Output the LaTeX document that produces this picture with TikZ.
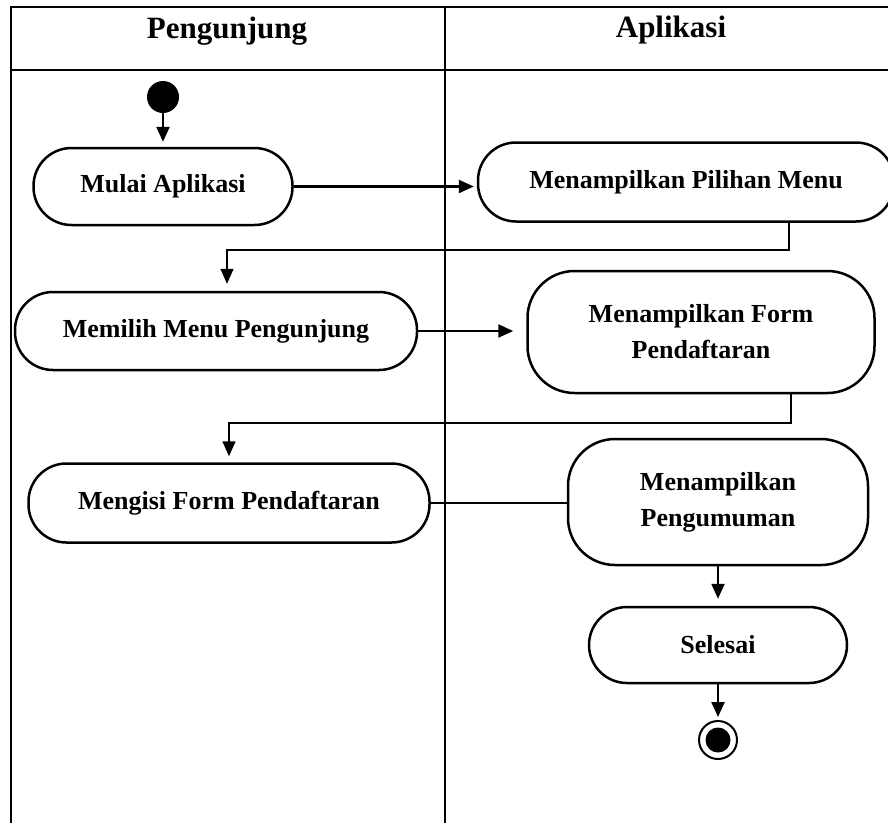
\documentclass[tikz,border=0pt]{standalone}
\usepackage{fontspec}
\setmainfont{Liberation Serif}
\usetikzlibrary{arrows.meta}

\begin{document}
\begin{tikzpicture}[x=1pt,y=-1pt,>={Triangle[length=15pt,width=13pt]},thick,
    act node/.style={draw,line width=2.5pt,rounded corners=38pt,align=center,inner sep=0pt,font=\bfseries\fontsize{26}{36}\selectfont},
    tall node/.style={act node,rounded corners=47pt},
    lane title/.style={anchor=base,font=\bfseries\fontsize{31}{36}\selectfont},
    start node/.style={circle,fill,minimum size=32pt,inner sep=0pt},
    end node/.style={circle,draw,line width=2pt,minimum size=38pt,inner sep=0pt,path picture={\fill (path picture bounding box.center) circle (12.5pt);}},
    lane/.style={line width=2pt},
    flow/.style={->,line width=2.4pt},
    elbow/.style={->,line width=1.5pt}]
            \useasboundingbox (0,0) rectangle (888,823);

            \draw[lane] (11,823) -- (11,7) -- (888,7);
            \draw[lane] (11,70) -- (888,70);
            \draw[lane] (445,7) -- (445,823);
            \node[lane title] (pengunjung) at (227,38) {Pengunjung};
            \node[lane title] (aplikasi) at (671,37) {Aplikasi};

            \node[start node] (start) at (163,97) {};
            \node[act node,minimum width=259pt,minimum height=77pt] (mulai) [below of=start,node distance=89.5pt] {Mulai Aplikasi};
            \node[act node,minimum width=416pt,minimum height=79pt] (pilihan) at (686,182) {Menampilkan Pilihan Menu};
            \node[act node,minimum width=402pt,minimum height=78pt] (memilih) at (216,331) {Memilih Menu Pengunjung};
            \node[tall node,minimum width=347pt,minimum height=122pt] (form) at (701,332) {Menampilkan Form\\Pendaftaran};
            \node[act node,minimum width=401pt,minimum height=79pt] (mengisi) at (229,503) {Mengisi Form Pendaftaran};
            \node[tall node,minimum width=300pt,minimum height=126pt] (umum) at (718,502) {Menampilkan\\Pengumuman};
            \node[act node,minimum width=258pt,minimum height=76pt] (selesai) [below of=umum,node distance=143pt] {Selesai};
            \node[end node] (finish) [below of=selesai,node distance=95pt] {};

            \coordinate (e1) at (227,250);
            \coordinate (e2) at (229,423);

            \draw[flow,shorten >=5pt] (start) -- (mulai);
            \draw[flow,shorten >=3pt] (mulai.east) -- (mulai.east -| pilihan.west);
            \draw[elbow,shorten >=7pt] ([xshift=103pt]pilihan.south) |- (e1) -- (e1 |- memilih.north);
            \draw[flow,shorten >=13pt] (memilih.east) -- (memilih.east -| form.west);
            \draw[elbow,shorten >=6pt] ([xshift=90pt]form.south) |- (e2) -- (e2 |- mengisi.north);
            \draw[flow,-] (mengisi.east) -- (mengisi.east -| umum.west);
            \draw[flow,shorten >=7pt] (umum) -- (selesai);
            \draw[flow,shorten >=3pt] (selesai) -- (finish);
        \end{tikzpicture}
\end{document}
